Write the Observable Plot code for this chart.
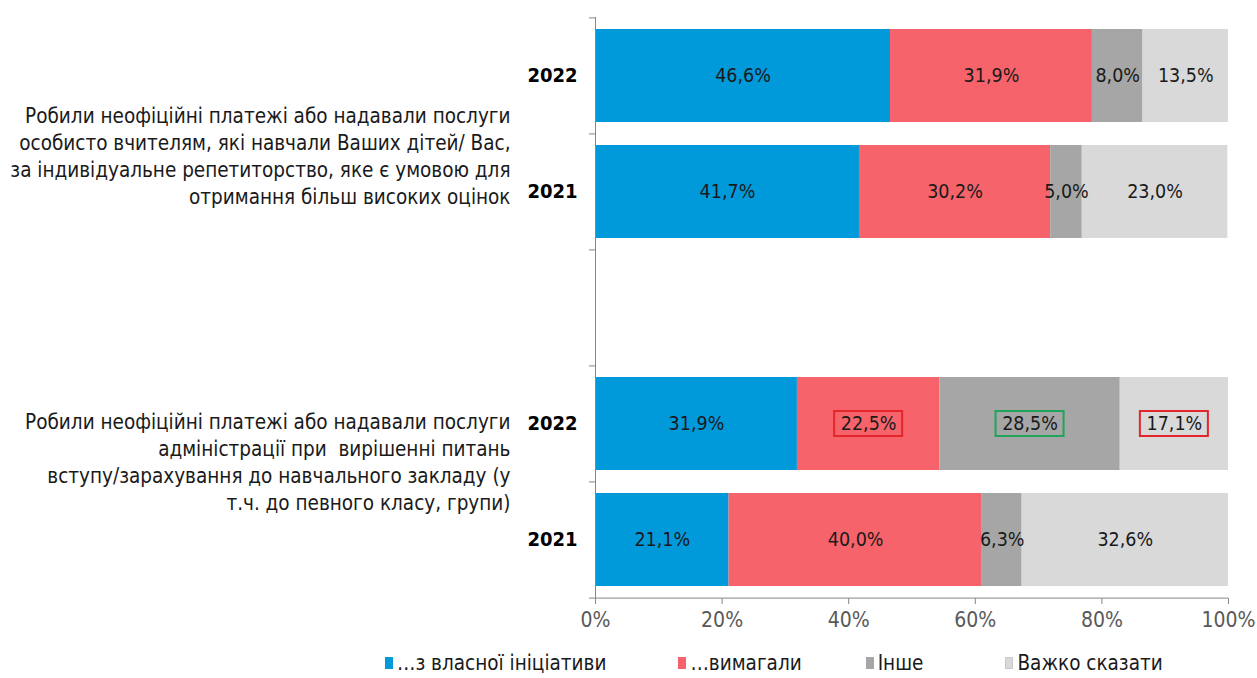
<!DOCTYPE html>
<html><head><meta charset="utf-8">
<script src="https://cdn.jsdelivr.net/npm/d3@7"></script>
<script src="https://cdn.jsdelivr.net/npm/@observablehq/plot@0.6"></script>
<style>
body{margin:0;background:#fff;}
#wrap{position:relative;width:1257px;height:678px;overflow:hidden;font-family:"DejaVu Sans Condensed","DejaVu Sans",sans-serif;}
#legend{position:absolute;left:385px;top:649px;display:flex;align-items:center;font-size:20.5px;color:#1a1a1a;line-height:28px;}
#legend .item{display:flex;align-items:center;}
#legend .sw{width:8px;height:12px;margin-right:4px;box-sizing:border-box;}
</style></head><body><div id="wrap"><div id="chart"></div><div id="legend"></div></div>
<script>
// ---- data ----
const groups = [
  "Робили неофіційні платежі або надавали послуги\nособисто вчителям, які навчали Ваших дітей/ Вас,\nза індивідуальне репетиторство, яке є умовою для\nотримання більш високих оцінок",
  "Робили неофіційні платежі або надавали послуги\nадміністрації при  вирішенні питань\nвступу/зарахування до навчального закладу (у\nт.ч. до певного класу, групи)"
];
const years = ["2022", "2021"];
const series = ["…з власної ініціативи", "…вимагали", "Інше", "Важко сказати"];
const group1_2022 = [46.6, 31.9, 8.0, 13.5];
const group1_2021 = [41.7, 30.2, 5.0, 23.0];
const group2_2022 = [31.9, 22.5, 28.5, 17.1];
const group2_2021 = [21.1, 40.0, 6.3, 32.6];
const xTicks = [0, 0.2, 0.4, 0.6, 0.8, 1];
// highlighted value labels (group index, year, series)
const boxedRed = [[1, "2022", "…вимагали"], [1, "2022", "Важко сказати"]];
const boxedGreen = [[1, "2022", "Інше"]];

// ---- build ----
const rows = ["g0-2022", "g0-2021", "gap", "g1-2022", "g1-2021"];
const seriesValues = {"g0-2022": group1_2022, "g0-2021": group1_2021, "g1-2022": group2_2022, "g1-2021": group2_2021};
const data = [];
for (const r of Object.keys(seriesValues)) {
  let cum = 0;
  seriesValues[r].forEach((v, i) => {
    data.push({row: r, series: series[i], value: v, v: v / 100, mid: (cum + v / 2) / 100});
    cum += v;
  });
}
const boxFind = (list) => list.map(([g, y, s]) => data.find(d => d.row === `g${g}-${y}` && d.series === s));
const fmt = v => v.toFixed(1).replace(".", ",") + "%";

const colors = ["#0099DA", "#F6636A", "#A6A6A6", "#D9D9D9"];
const legendGaps = [72, 64, 82, 0];
const FONT = '"DejaVu Sans Condensed","DejaVu Sans",sans-serif';
const W = 1257, H = 645, mt = 17, mb = 47, ml = 595, mr = 29;
const step = (H - mt - mb) / rows.length;
const tickLen = 6 / (W - ml - mr);
const boxHalf = 34 / (W - ml - mr);
const axisColor = "#868686";

const plot = Plot.plot({
  width: W, height: H, marginTop: mt, marginBottom: mb, marginLeft: ml, marginRight: mr,
  style: {fontFamily: FONT, background: "white", overflow: "visible"},
  x: {domain: [0, 1]},
  y: {domain: rows, paddingInner: 0.2, paddingOuter: 0.1},
  color: {domain: series, range: colors},
  marks: [
    Plot.barX(data, Plot.stackX({x: "v", y: "row", fill: "series"})),
    Plot.text(data, Plot.stackX({x: "v", y: "row", z: "series", text: d => fmt(d.value), fill: "#1a1a1a", fontSize: 19.5})),
    Plot.barX(boxFind(boxedRed), {x1: d => d.mid - boxHalf, x2: d => d.mid + boxHalf, y: "row", insetTop: 34, insetBottom: 34, fill: "none", stroke: "#E3262B", strokeWidth: 2}),
    Plot.barX(boxFind(boxedGreen), {x1: d => d.mid - boxHalf, x2: d => d.mid + boxHalf, y: "row", insetTop: 34, insetBottom: 34, fill: "none", stroke: "#1FA45A", strokeWidth: 2}),
    Plot.ruleX([0], {stroke: axisColor}),
    Plot.ruleY(rows, {x1: -tickLen, x2: 0, dy: -step / 2, stroke: axisColor}),
    Plot.ruleY([rows[rows.length - 1]], {x1: -tickLen, x2: 1, dy: step / 2, stroke: axisColor}),
    Plot.axisX({ticks: xTicks, label: null, tickSize: 6, tickPadding: 8, fontSize: 21, color: "#595959", stroke: axisColor, tickFormat: d3.format(".0%")}),
    Plot.axisY({label: null, tickSize: 0, tickPadding: 18, fontSize: 20, fontWeight: "bold", color: "#000", tickFormat: r => r === "gap" ? "" : r.split("-")[1]}),
    Plot.text([{t: groups[0], row: "g0-2021"}], {text: "t", y: "row", frameAnchor: "left", dx: -85, dy: -37, textAnchor: "end", lineHeight: 1.32, fontSize: 20.5, fill: "#1a1a1a"}),
    Plot.text([{t: groups[1], row: "g1-2022"}], {text: "t", y: "row", frameAnchor: "left", dx: -85, dy: 37, textAnchor: "end", lineHeight: 1.32, fontSize: 20.5, fill: "#1a1a1a"})
  ]
});
document.getElementById("chart").appendChild(plot);

const legend = document.getElementById("legend");
series.forEach((s, i) => {
  const it = document.createElement("div");
  it.className = "item";
  it.style.marginRight = legendGaps[i] + "px";
  const sw = document.createElement("span");
  sw.className = "sw";
  sw.style.background = colors[i];
  if (i === 3) sw.style.border = "1px solid #c8c8c8";
  const tx = document.createElement("span");
  tx.textContent = s;
  it.appendChild(sw); it.appendChild(tx);
  legend.appendChild(it);
});
</script></body></html>
